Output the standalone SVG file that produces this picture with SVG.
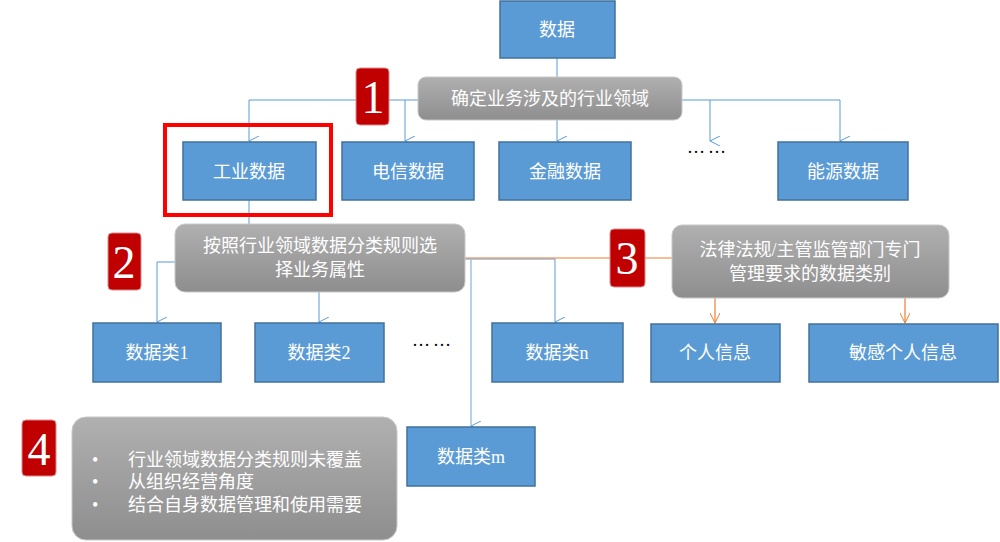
<svg xmlns="http://www.w3.org/2000/svg" width="1000" height="542" viewBox="0 0 1000 542">
<defs>
<linearGradient id="g" x1="0" y1="0" x2="0" y2="1"><stop offset="0" stop-color="#b0b0b0"/><stop offset="1" stop-color="#8e8e8e"/></linearGradient>
<marker id="ab" viewBox="0 0 10 10" refX="5" refY="10" markerWidth="10" markerHeight="10" orient="auto-start-reverse" markerUnits="userSpaceOnUse"><path d="M0,0 L5,10 L10,0" fill="none" stroke="#5b9bd5" stroke-width="1"/></marker>
<marker id="ao" viewBox="0 0 10 10" refX="5" refY="10" markerWidth="10" markerHeight="10" markerUnits="userSpaceOnUse"><path d="M0,0 L5,10 L10,0" fill="none" stroke="#ed7d31" stroke-width="1"/></marker>
</defs>
<style>
.b{fill:#5b9bd5;stroke:#41719c;stroke-width:1.5}
.g{fill:url(#g);stroke:#c8c8c8;stroke-width:1}
.r{fill:#c00000;stroke:#d88;stroke-width:1}
.t{font-family:"Liberation Serif","Noto Sans CJK SC",serif;font-size:18px;fill:#fff;text-anchor:middle}
.n{font-family:"Liberation Serif",serif;font-size:46px;fill:#fff;text-anchor:middle}
.d{font-family:"Liberation Serif",serif;font-size:18px;fill:#000;text-anchor:middle;letter-spacing:3px}
.lb{fill:none;stroke:#5b9bd5;stroke-width:1}
.lo{fill:none;stroke:#ed7d31;stroke-width:1.2}
</style>
<g id="connectors">
<path class="lb" d="M557,58V77"/>
<path class="lb" d="M249,100H840"/>
<path class="lb" d="M249,100V141" marker-end="url(#ab)"/>
<path class="lb" d="M405,100V141" marker-end="url(#ab)"/>
<path class="lb" d="M557,120V141" marker-end="url(#ab)"/>
<path class="lb" d="M710,100V141" marker-end="url(#ab)"/>
<path class="lb" d="M840,100V141" marker-end="url(#ab)"/>
<path class="lb" d="M249,200V224"/>
<path class="lb" d="M175,262H157V322" marker-end="url(#ab)"/>
<path class="lb" d="M319,292V322" marker-end="url(#ab)"/>
<path class="lb" d="M465,259H555V322" marker-end="url(#ab)"/>
<path d="M471,259V426" fill="none" stroke="#9dc3e6" stroke-width="1.5" marker-end="url(#ab)"/>
<path class="lo" d="M465,258H672"/>
<path class="lo" d="M715,298V323" marker-end="url(#ao)"/>
<path class="lo" d="M905,298V323" marker-end="url(#ao)"/>
</g>
<g id="n-data"><rect class="b" x="500" y="1" width="115" height="57"/><text class="t" x="557" y="36">数据</text></g>
<g id="n-g1"><rect class="g" x="418" y="77" width="264" height="43" rx="8"/><text class="t" x="550" y="105">确定业务涉及的行业领域</text></g>
<g id="n-b1"><rect class="r" x="356" y="68" width="33" height="57" rx="4"/><text class="n" x="373" y="113">1</text></g>
<g id="n-ind"><rect class="b" x="183" y="142" width="133" height="58"/><text class="t" x="249" y="178">工业数据</text></g>
<g id="n-hl"><rect x="165" y="125" width="166" height="90" fill="none" stroke="#ff0000" stroke-width="4"/></g>
<g id="n-tel"><rect class="b" x="342" y="142" width="132" height="58"/><text class="t" x="408" y="178">电信数据</text></g>
<g id="n-fin"><rect class="b" x="499" y="142" width="132" height="58"/><text class="t" x="565" y="178">金融数据</text></g>
<g id="n-dots1"><text class="d" x="708" y="153">……</text></g>
<g id="n-eng"><rect class="b" x="778" y="142" width="130" height="58"/><text class="t" x="843" y="178">能源数据</text></g>
<g id="n-g2"><rect class="g" x="175" y="224" width="290" height="68" rx="10"/><text class="t" x="320" y="252">按照行业领域数据分类规则选</text><text class="t" x="320" y="276">择业务属性</text></g>
<g id="n-b2"><rect class="r" x="108" y="233" width="33" height="57" rx="4"/><text class="n" x="124" y="278">2</text></g>
<g id="n-g3"><rect class="g" x="672" y="225" width="277" height="73" rx="10"/><text class="t" x="810" y="256">法律法规/主管监管部门专门</text><text class="t" x="810" y="280">管理要求的数据类别</text></g>
<g id="n-b3"><rect class="r" x="610" y="229" width="35" height="58" rx="4"/><text class="n" x="627" y="274">3</text></g>
<g id="n-c1"><rect class="b" x="93" y="323" width="128" height="59"/><text class="t" x="157" y="359">数据类1</text></g>
<g id="n-c2"><rect class="b" x="255" y="323" width="129" height="59"/><text class="t" x="319" y="359">数据类2</text></g>
<g id="n-dots2"><text class="d" x="433" y="346">……</text></g>
<g id="n-cn"><rect class="b" x="492" y="323" width="131" height="59"/><text class="t" x="557" y="359">数据类n</text></g>
<g id="n-pi"><rect class="b" x="651" y="324" width="129" height="58"/><text class="t" x="715" y="359">个人信息</text></g>
<g id="n-spi"><rect class="b" x="809" y="324" width="189" height="58"/><text class="t" x="903" y="359">敏感个人信息</text></g>
<g id="n-cm"><rect class="b" x="407" y="427" width="128" height="59"/><text class="t" x="471" y="463">数据类m</text></g>
<g id="n-g4"><rect class="g" x="72" y="417" width="325" height="123" rx="14"/>
<text class="t" style="text-anchor:start" x="92" y="466">•</text><text class="t" style="text-anchor:start" x="128" y="466">行业领域数据分类规则未覆盖</text>
<text class="t" style="text-anchor:start" x="92" y="488">•</text><text class="t" style="text-anchor:start" x="128" y="488">从组织经营角度</text>
<text class="t" style="text-anchor:start" x="92" y="511">•</text><text class="t" style="text-anchor:start" x="128" y="511">结合自身数据管理和使用需要</text></g>
<g id="n-b4"><rect class="r" x="22" y="420" width="34" height="56" rx="4"/><text class="n" x="39" y="465">4</text></g>
</svg>
